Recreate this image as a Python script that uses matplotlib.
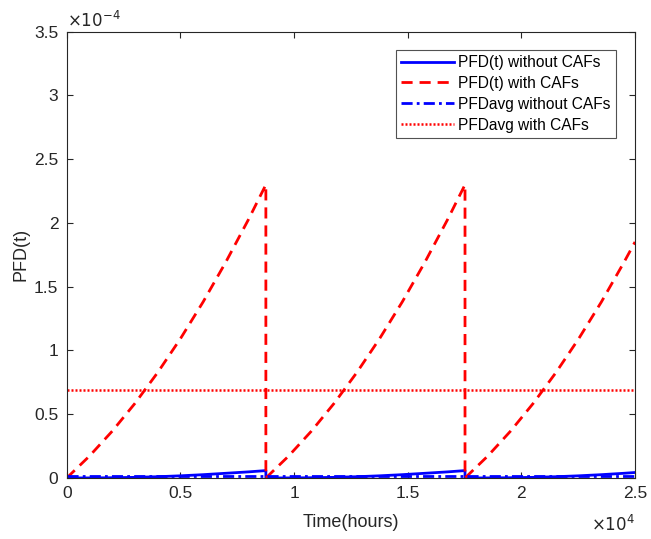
import matplotlib
matplotlib.use("Agg")
import matplotlib.pyplot as plt
from matplotlib.ticker import FuncFormatter

plt.rcParams['font.family'] = ['Liberation Sans', 'DejaVu Sans']

# time (hours) and PFD values, three proof-test cycles
time_h = [0, 1000, 2000, 3000, 4000, 5000, 6000, 7000, 8000, 8760,
          8760, 9760, 10760, 11760, 12760, 13760, 14760, 15760, 16760, 17520,
          17520, 18520, 19520, 20520, 21520, 22520, 23520, 24520, 25000]
pfd_with = [0, 0.172, 0.367, 0.585, 0.827, 1.092, 1.381, 1.694, 2.029, 2.30,
            0, 0.172, 0.367, 0.585, 0.827, 1.092, 1.381, 1.694, 2.029, 2.30,
            0, 0.172, 0.367, 0.585, 0.827, 1.092, 1.381, 1.694, 1.851]
pfd_without = [0, 0.0005, 0.002, 0.005, 0.010, 0.017, 0.026, 0.037, 0.048, 0.058,
               0, 0.0005, 0.002, 0.005, 0.010, 0.017, 0.026, 0.037, 0.048, 0.058,
               0, 0.0005, 0.002, 0.005, 0.010, 0.017, 0.026, 0.037, 0.043]
avg_span = [0, 25000]
pfdavg_without = [0.018, 0.018]
pfdavg_with = [0.69, 0.69]
scale = 1e-4

fig = plt.figure(figsize=(6.51, 5.39), dpi=100)
ax = fig.add_axes([0.1025, 0.1132, 0.873, 0.828])

ax.plot(time_h, [v * scale for v in pfd_without], color='blue', lw=2, label='PFD(t) without CAFs')
ax.plot(time_h, [v * scale for v in pfd_with], color='red', lw=2, dashes=(4, 2.5), label='PFD(t) with CAFs')
ax.plot(avg_span, [v * scale for v in pfdavg_without], color='blue', lw=2, dashes=(4, 1.5, 1, 1.5),
        label='PFDavg without CAFs')
ax.plot(avg_span, [v * scale for v in pfdavg_with], color='red', lw=1.8, dashes=(0.8, 0.8),
        label='PFDavg with CAFs')

ax.set_xlim(0, 25000)
ax.set_ylim(0, 3.5e-4)
ax.set_xticks([0, 5000, 10000, 15000, 20000, 25000])
ax.set_yticks([i * 0.5e-4 for i in range(8)])
ax.xaxis.set_major_formatter(FuncFormatter(lambda v, p: f"{v / 1e4:g}"))
ax.yaxis.set_major_formatter(FuncFormatter(lambda v, p: f"{v / 1e-4:g}"))

grey = (0.15, 0.15, 0.15)
for s in ax.spines.values():
    s.set_color(grey)
    s.set_linewidth(0.8)
ax.tick_params(direction='in', top=True, right=True, length=4, width=0.8,
               colors=grey, labelsize=12.5, pad=6)

ax.text(0.0, 1.003, r'$\times10^{-4}$', transform=ax.transAxes, fontsize=12,
        color=grey, ha='left', va='bottom')
ax.text(1.0, -0.08, r'$\times10^{4}$', transform=ax.transAxes, fontsize=12,
        color=grey, ha='right', va='top')

ax.set_xlabel('Time(hours)', fontsize=13, color=grey, labelpad=9)
ax.set_ylabel('PFD(t)', fontsize=13, color=grey, labelpad=3)

leg = ax.legend(loc='upper right', bbox_to_anchor=(0.966, 0.96), fontsize=11.2,
                frameon=True, fancybox=False, edgecolor=grey, handlelength=3.4,
                handletextpad=0.25, borderpad=0.35, labelspacing=0.38, borderaxespad=0)
leg.get_frame().set_linewidth(0.8)

fig.savefig('out.png', dpi=100)
